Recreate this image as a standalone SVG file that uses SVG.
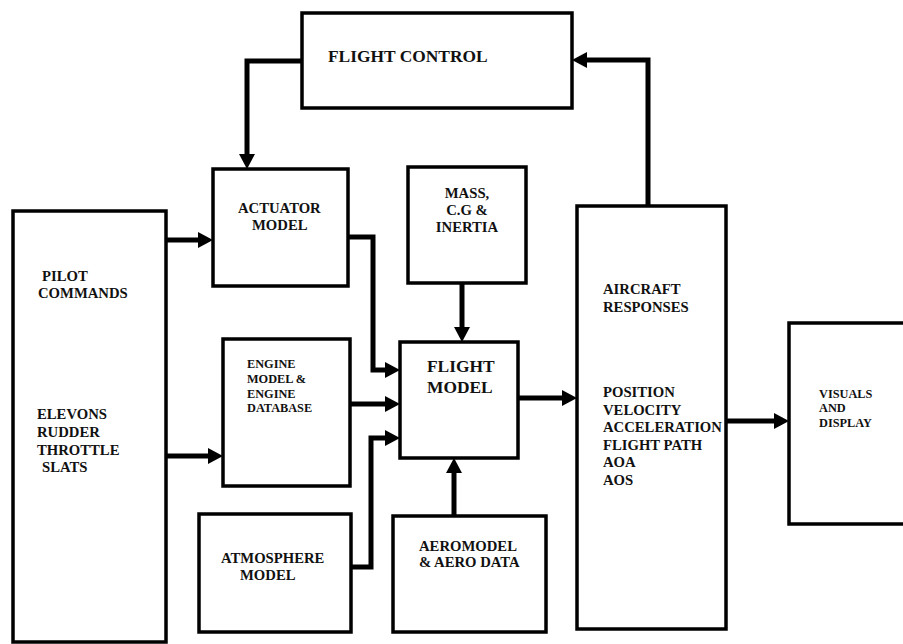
<svg xmlns="http://www.w3.org/2000/svg" width="903" height="644" viewBox="0 0 903 644">
<style>
.box{fill:#fff;stroke:#000;stroke-width:3.5}
.t{font-family:"Liberation Serif","Times New Roman",serif;font-weight:bold;fill:#111}
.m{font-size:14.7px}
.s{font-size:12.3px}
.l{font-size:17.4px}
.c{fill:none;stroke:#000;stroke-width:5;stroke-linejoin:miter}
</style>
<defs>
<marker id="ah" viewBox="0 0 15 16" refX="1" refY="8" markerWidth="15" markerHeight="16" markerUnits="userSpaceOnUse" orient="auto">
<path d="M0,0 L15,8 L0,16 z" fill="#000"/>
</marker>
</defs>
<rect width="903" height="644" fill="#fff"/>
<g id="flight-control">
<rect class="box" x="302" y="13" width="270" height="95"/>
<text class="t l" x="328" y="62">FLIGHT CONTROL</text>
</g>
<g id="actuator-model">
<rect class="box" x="213" y="169" width="135" height="117"/>
<text class="t m" x="238" y="213">ACTUATOR</text>
<text class="t m" x="252" y="230">MODEL</text>
</g>
<g id="pilot-commands">
<rect class="box" x="13" y="211" width="153" height="431"/>
<text class="t m" x="42" y="281">PILOT</text>
<text class="t m" x="38" y="298">COMMANDS</text>
<text class="t m" x="37" y="419">ELEVONS</text>
<text class="t m" x="37" y="437">RUDDER</text>
<text class="t m" x="37" y="455">THROTTLE</text>
<text class="t m" x="42" y="472">SLATS</text>
</g>
<g id="mass-cg-inertia">
<rect class="box" x="408" y="167" width="118" height="116"/>
<text class="t m" x="467" y="198" text-anchor="middle">MASS,</text>
<text class="t m" x="467" y="215" text-anchor="middle">C.G &amp;</text>
<text class="t m" x="467" y="232" text-anchor="middle">INERTIA</text>
</g>
<g id="engine-model">
<rect class="box" x="223" y="339" width="127" height="147"/>
<text class="t s" x="247" y="368">ENGINE</text>
<text class="t s" x="247" y="383">MODEL &amp;</text>
<text class="t s" x="247" y="398">ENGINE</text>
<text class="t s" x="247" y="412">DATABASE</text>
</g>
<g id="flight-model">
<rect class="box" x="400" y="342" width="118" height="116"/>
<text class="t l" x="427" y="372">FLIGHT</text>
<text class="t l" x="427" y="393">MODEL</text>
</g>
<g id="atmosphere-model">
<rect class="box" x="199" y="514" width="152" height="118"/>
<text class="t m" x="221" y="563">ATMOSPHERE</text>
<text class="t m" x="240" y="580">MODEL</text>
</g>
<g id="aero-model">
<rect class="box" x="393" y="516" width="153" height="116"/>
<text class="t m" x="419" y="551">AEROMODEL</text>
<text class="t m" x="419" y="567">&amp; AERO DATA</text>
</g>
<g id="aircraft-responses">
<rect class="box" x="577" y="206" width="149" height="423"/>
<text class="t m" x="603" y="294">AIRCRAFT</text>
<text class="t m" x="603" y="312">RESPONSES</text>
<text class="t m" x="603" y="397">POSITION</text>
<text class="t m" x="603" y="415">VELOCITY</text>
<text class="t m" x="603" y="432">ACCELERATION</text>
<text class="t m" x="603" y="450">FLIGHT PATH</text>
<text class="t m" x="603" y="467">AOA</text>
<text class="t m" x="603" y="485">AOS</text>
</g>
<g id="visuals-display">
<rect class="box" x="789" y="323" width="130" height="201"/>
<text class="t s" x="819" y="398">VISUALS</text>
<text class="t s" x="819" y="412">AND</text>
<text class="t s" x="819" y="427">DISPLAY</text>
</g>
<g id="connectors">
<path class="c" d="M166,240 H199" marker-end="url(#ah)"/>
<path class="c" d="M166,456 H209" marker-end="url(#ah)"/>
<path class="c" d="M348,237 H373 V370 H386" marker-end="url(#ah)"/>
<path class="c" d="M350,404 H386" marker-end="url(#ah)"/>
<path class="c" d="M351,567 H371 V438 H386" marker-end="url(#ah)"/>
<path class="c" d="M462,283 V328" marker-end="url(#ah)"/>
<path class="c" d="M454,516 V472" marker-end="url(#ah)"/>
<path class="c" d="M518,398 H563" marker-end="url(#ah)"/>
<path class="c" d="M726,421 H775" marker-end="url(#ah)"/>
<path class="c" d="M648,206 V60 H586" marker-end="url(#ah)"/>
<path class="c" d="M302,61 H247 V155" marker-end="url(#ah)"/>
</g>
</svg>
